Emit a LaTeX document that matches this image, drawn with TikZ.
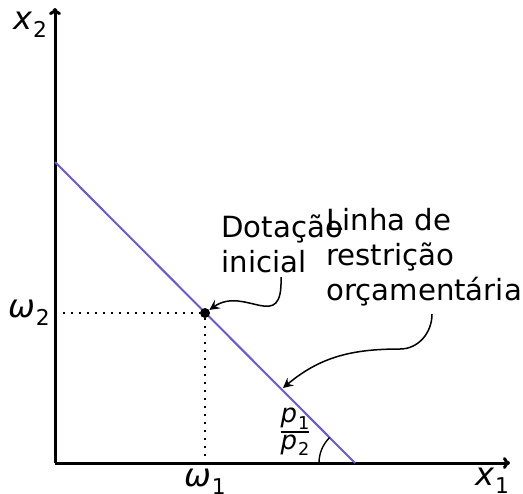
\documentclass[tikz,border=0pt]{standalone}
\usepackage{amsmath}
\usepackage{fontspec}
\setmainfont{DejaVu Sans}
\usetikzlibrary{arrows.meta, positioning, calc}

\definecolor{budget}{RGB}{106,90,205}
\newcommand{\vsub}[2]{{\itshape #1}\kern0.5pt\raisebox{-0.45ex}{\fontsize{0.68em}{1em}\selectfont #2}}

\tikzset{
  lbl/.style={font=\fontsize{16}{19}\selectfont, inner sep=0pt},
  note/.style={font=\fontsize{14.6}{17.5}\selectfont, inner sep=0pt, align=left, anchor=north west},
  axis/.style={line width=1.5pt, -{To[length=3.5pt,width=6pt]}},
  guide/.style={line width=1pt, dash pattern=on 1pt off 3pt},
  pointer/.style={line width=0.75pt, -{Stealth[length=5pt,width=5pt,inset=1.8pt]}}
}

\begin{document}
\begin{tikzpicture}[x=0.5pt, y=-0.5pt]
  \useasboundingbox (0,0) rectangle (523,493);
  % Axes
  \coordinate (O) at (55,463);
  \coordinate (xend) at (510,463);
  \coordinate (yend) at (55,8);
  \draw[axis] (O) -- (xend);
  \draw[axis] (O) -- (yend);
  \node[lbl] (xlab) at (492,481) {\vsub{x}{1}};
  \node[lbl] (ylab) at (30,25) {\vsub{x}{2}};
  % Budget line
  \coordinate (top) at (55,162);
  \coordinate (cut) at (355,463);
  \draw[budget, line width=1pt] (top) -- (cut);
  \draw[line width=0.7pt] ($(cut)+(-36,0)$) arc[start angle=180, end angle=135, radius=18pt];
  \node[font=\fontsize{13}{15}\selectfont, inner sep=0pt] (slope) at (295,432)
    {$\genfrac{}{}{1pt}{}{\mbox{\vsub{p}{1}}}{\mbox{\vsub{p}{2}}}$};
  % Endowment
  \node[circle, fill, inner sep=0pt, minimum size=5pt] (w) at (205,313) {};
  \coordinate (w2end) at (55,313);
  \coordinate (w1end) at (205,463);
  \draw[guide] (w2end) -- (w);
  \draw[guide] (w) -- (w1end);
  \node[lbl] (w2) at (29,313) {\vsub{ω}{2}};
  \node[lbl] (w1) at (205,482) {\vsub{ω}{1}};
  % Notes
  \node[note] (endow) at (221,214) {Dotação\\inicial};
  \node[note] (line) at (326,208) {Linha de\\restrição\\orçamentária};
  \coordinate (from1) at (281,277);
  \coordinate (from2) at (432,314);
  \coordinate (tip) at (283,388);
  \draw[pointer] (from1) .. controls (283,335) and (245,285) .. (w);
  \draw[pointer] (from2) to[out=-90, in=0] (400,349) to[out=180, in=40] (tip);
\end{tikzpicture}
\end{document}
